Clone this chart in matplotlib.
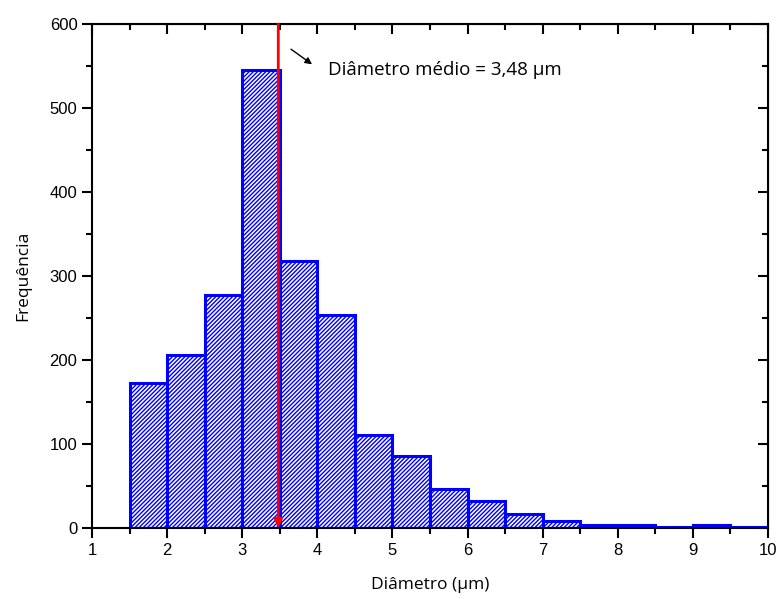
import matplotlib
matplotlib.use("Agg")
import matplotlib.pyplot as plt
from matplotlib.ticker import MultipleLocator
import numpy as np

# Histogram of particle diameters (bin edges in µm, counts per bin)
bin_edges = [1.5, 2.0, 2.5, 3.0, 3.5, 4.0, 4.5, 5.0, 5.5, 6.0, 6.5, 7.0,
             7.5, 8.0, 8.5, 9.0, 9.5, 10.0]
counts = [173, 206, 277, 545, 318, 253, 111, 86, 46, 32, 17, 8, 4, 4, 1, 3, 1]
mean_diameter = 3.48

plt.rcParams['hatch.color'] = 'blue'
plt.rcParams['hatch.linewidth'] = 1.0

fig = plt.figure(figsize=(7.8, 5.99), dpi=100)
ax = fig.add_axes([92 / 780, 1 - 528 / 599, 676 / 780, 504 / 599])

lefts = np.array(bin_edges[:-1])
widths = np.diff(bin_edges)
ax.bar(lefts, counts, width=widths, align='edge', facecolor='white',
       edgecolor='blue', linewidth=2.2, hatch='////////', zorder=2)

# mean diameter marker
ax.annotate('', xy=(mean_diameter, 0), xytext=(mean_diameter, 600),
            arrowprops=dict(arrowstyle='-|>', color='red', lw=2,
                            mutation_scale=12, shrinkA=0, shrinkB=0),
            zorder=3)
ax.annotate('', xy=(3.93, 552), xytext=(3.65, 570),
            arrowprops=dict(arrowstyle='-|>', color='black', lw=1,
                            mutation_scale=10, shrinkA=0, shrinkB=0))
ax.text(4.14, 545, 'Diâmetro médio = 3,48 μm', fontsize=13.5,
        family=['Open Sans', 'DejaVu Sans'], va='center', ha='left')

ax.set_xlim(1, 10)
ax.set_ylim(0, 600)
ax.xaxis.set_major_locator(MultipleLocator(1))
ax.xaxis.set_minor_locator(MultipleLocator(0.5))
ax.yaxis.set_major_locator(MultipleLocator(100))
ax.yaxis.set_minor_locator(MultipleLocator(50))

for s in ax.spines.values():
    s.set_linewidth(1.5)

ax.tick_params(which='both', direction='out', top=False, right=False,
               labelsize=12, width=1.5)
ax.tick_params(which='major', length=7)
ax.tick_params(which='minor', length=4)
for lbl in ax.get_xticklabels() + ax.get_yticklabels():
    lbl.set_family('Liberation Sans')

# mirrored inward ticks on top and right
axt = ax.secondary_xaxis('top')
axt.xaxis.set_major_locator(MultipleLocator(1))
axt.xaxis.set_minor_locator(MultipleLocator(0.5))
axt.tick_params(which='both', direction='in', labeltop=False, width=1.5)
axt.tick_params(which='major', length=7)
axt.tick_params(which='minor', length=4)
axr = ax.secondary_yaxis('right')
axr.yaxis.set_major_locator(MultipleLocator(100))
axr.yaxis.set_minor_locator(MultipleLocator(50))
axr.tick_params(which='both', direction='in', labelright=False, width=1.5)
axr.tick_params(which='major', length=7)
axr.tick_params(which='minor', length=4)

ax.set_xlabel('Diâmetro (μm)', fontsize=12.5, family=['Open Sans', 'DejaVu Sans'],
              labelpad=14)
ax.set_ylabel('Frequência', fontsize=12.5, family=['Open Sans', 'DejaVu Sans'],
              labelpad=13)

fig.savefig('out.png', dpi=100)
